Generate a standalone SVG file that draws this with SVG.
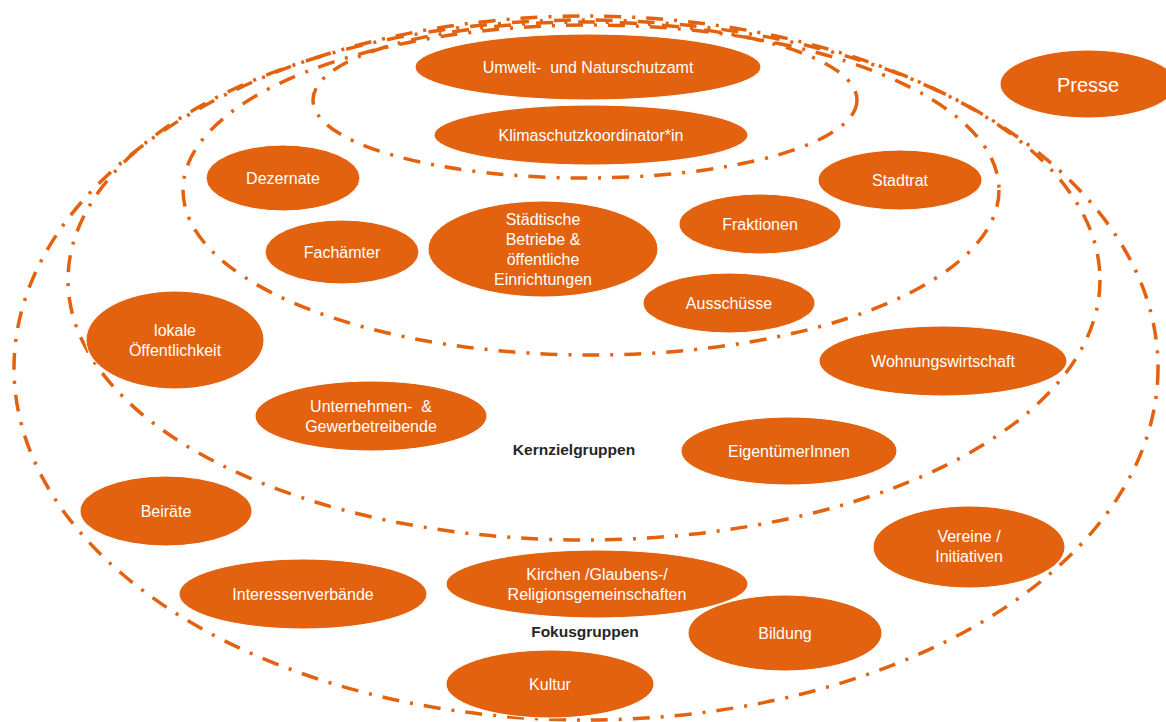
<svg xmlns="http://www.w3.org/2000/svg" width="1166" height="722" viewBox="0 0 1166 722">
<style>
.ring{fill:none;stroke:#E2620F;stroke-width:3.5;stroke-dasharray:17 11 3 11}
.node{fill:#E2620F;stroke:#FFFFFF;stroke-width:1}
.t{font-family:"Liberation Sans",Arial,sans-serif;font-size:16px;fill:#FFFFFF;text-anchor:middle}
.lbl{font-family:"Liberation Sans",Arial,sans-serif;font-size:15.5px;font-weight:bold;fill:#262626;text-anchor:middle}
</style>
<rect width="1166" height="722" fill="#FFFFFF"/>
<g id="rings">
<ellipse id="ring-fokus" class="ring" cx="586" cy="368" rx="572" ry="352"/>
<ellipse id="ring-kern" class="ring" cx="584" cy="280" rx="516" ry="260"/>
<ellipse id="ring-politik" class="ring" cx="591" cy="190" rx="408" ry="165"/>
<ellipse id="ring-verwaltung" class="ring" cx="585" cy="100" rx="272" ry="78"/>
</g>
<g id="label-kern"><text class="lbl" x="574" y="455">Kernzielgruppen</text></g>
<g id="label-fokus"><text class="lbl" x="585" y="637">Fokusgruppen</text></g>
<g id="n-umwelt"><ellipse class="node" cx="588" cy="67" rx="173" ry="33"/><text class="t" x="588" y="73">Umwelt-&#160; und Naturschutzamt</text></g>
<g id="n-klima"><ellipse class="node" cx="591" cy="135" rx="157" ry="30"/><text class="t" x="591" y="141">Klimaschutzkoordinator*in</text></g>
<g id="n-dezernate"><ellipse class="node" cx="283" cy="178" rx="77" ry="33"/><text class="t" x="283" y="184">Dezernate</text></g>
<g id="n-stadtrat"><ellipse class="node" cx="900" cy="180" rx="82" ry="30"/><text class="t" x="900" y="186">Stadtrat</text></g>
<g id="n-fachaemter"><ellipse class="node" cx="342" cy="252" rx="77" ry="32"/><text class="t" x="342" y="258">Fachämter</text></g>
<g id="n-betriebe"><ellipse class="node" cx="543" cy="249" rx="115" ry="48"/><text class="t" x="543" y="225">Städtische</text><text class="t" x="543" y="245">Betriebe &amp;</text><text class="t" x="543" y="265">öffentliche</text><text class="t" x="543" y="285">Einrichtungen</text></g>
<g id="n-fraktionen"><ellipse class="node" cx="760" cy="224" rx="81" ry="30"/><text class="t" x="760" y="230">Fraktionen</text></g>
<g id="n-ausschuesse"><ellipse class="node" cx="729" cy="303" rx="86" ry="30"/><text class="t" x="729" y="309">Ausschüsse</text></g>
<g id="n-oeffentlichkeit"><ellipse class="node" cx="175" cy="340" rx="89" ry="49"/><text class="t" x="175" y="336">lokale</text><text class="t" x="175" y="356">Öffentlichkeit</text></g>
<g id="n-wohnung"><ellipse class="node" cx="943" cy="361" rx="124" ry="35"/><text class="t" x="943" y="367">Wohnungswirtschaft</text></g>
<g id="n-unternehmen"><ellipse class="node" cx="371" cy="416" rx="116" ry="35"/><text class="t" x="371" y="412">Unternehmen-&#160; &amp;</text><text class="t" x="371" y="432">Gewerbetreibende</text></g>
<g id="n-eigentuemer"><ellipse class="node" cx="789" cy="451" rx="108" ry="34"/><text class="t" x="789" y="457">EigentümerInnen</text></g>
<g id="n-beiraete"><ellipse class="node" cx="166" cy="511" rx="86" ry="35"/><text class="t" x="166" y="517">Beiräte</text></g>
<g id="n-vereine"><ellipse class="node" cx="969" cy="547" rx="96" ry="41"/><text class="t" x="969" y="542">Vereine /</text><text class="t" x="969" y="562">Initiativen</text></g>
<g id="n-interessen"><ellipse class="node" cx="303" cy="594" rx="124" ry="35"/><text class="t" x="303" y="600">Interessenverbände</text></g>
<g id="n-kirchen"><ellipse class="node" cx="597" cy="584" rx="151" ry="34"/><text class="t" x="597" y="580">Kirchen /Glaubens-/</text><text class="t" x="597" y="600">Religionsgemeinschaften</text></g>
<g id="n-bildung"><ellipse class="node" cx="785" cy="633" rx="97" ry="38"/><text class="t" x="785" y="639">Bildung</text></g>
<g id="n-kultur"><ellipse class="node" cx="550" cy="684" rx="104" ry="34"/><text class="t" x="550" y="690">Kultur</text></g>
<g id="n-presse"><ellipse class="node" cx="1088" cy="84" rx="88" ry="34"/><text class="t" x="1088" y="92" style="font-size:20px">Presse</text></g>
</svg>
